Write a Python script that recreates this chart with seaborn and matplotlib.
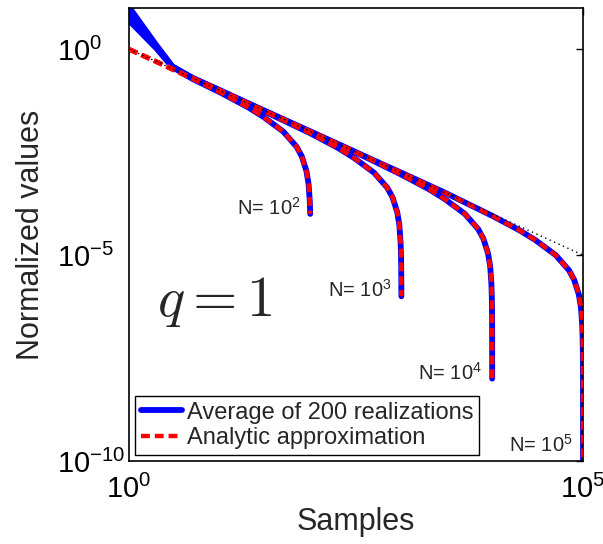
import matplotlib
matplotlib.use('Agg')
import pandas as pd
import seaborn as sns
import matplotlib.pyplot as plt
from matplotlib.ticker import NullLocator

# values
sizes = [1e2, 1e3, 1e4, 1e5]
size_labels = ['N= $10^2$', 'N= $10^3$', 'N= $10^4$', 'N= $10^5$']

n_1e2 = [1, 2, 3, 5, 10, 20, 30, 50, 70, 80, 90, 95, 98, 99]
approx_1e2 = [0.99, 0.49, 0.32, 0.19, 0.09, 0.04, 0.023, 0.01, 0.0043, 0.0025, 0.0011, 5.3e-4, 2.0e-4, 1.0e-4]

n_1e3 = [1, 2, 3, 5, 10, 30, 100, 200, 300, 500, 700, 800, 900, 950, 980, 990, 995, 998, 999]
approx_1e3 = [1.0, 0.5, 0.33, 0.2, 0.1, 0.032, 0.009, 0.004, 0.0023, 0.001, 4.3e-4, 2.5e-4,
              1.1e-4, 5.3e-5, 2.0e-5, 1.0e-5, 5.0e-6, 2.0e-6, 1.0e-6]

n_1e4 = [1, 2, 3, 5, 10, 30, 100, 300, 1000, 2000, 3000, 5000, 7000, 8000, 9000, 9500,
         9800, 9900, 9950, 9980, 9990, 9999]
approx_1e4 = [1.0, 0.5, 0.33, 0.2, 0.1, 0.033, 0.0099, 0.0033, 9.0e-4, 4.0e-4, 2.3e-4, 1.0e-4,
              4.3e-5, 2.5e-5, 1.1e-5, 5.3e-6, 2.0e-6, 1.0e-6, 5.0e-7, 2.0e-7, 1.0e-7, 1.0e-8]

n_1e5 = [1, 2, 3, 5, 10, 30, 100, 300, 1000, 3000, 10000, 20000, 30000, 50000, 70000, 80000,
         90000, 95000, 98000, 99000, 99500, 99800, 99900, 99990, 99999]
approx_1e5 = [1.0, 0.5, 0.33, 0.2, 0.1, 0.033, 0.01, 0.0033, 0.001, 3.3e-4, 9.0e-5, 4.0e-5,
              2.3e-5, 1.0e-5, 4.3e-6, 2.5e-6, 1.1e-6, 5.3e-7, 2.0e-7, 1.0e-7, 5.0e-8, 2.0e-8,
              1.0e-8, 1.0e-9, 1.0e-10]

# the simulated averages sit higher over the first few samples
blue_start = [[5.0, 1.05, 0.37], [6.5, 1.12, 0.37], [8.0, 1.18, 0.38], [10.5, 1.25, 0.38]]

# dotted power-law guide
guide_n = [1, 1e5]
guide_y = [1.0, 1e-5]

all_n = [n_1e2, n_1e3, n_1e4, n_1e5]
all_approx = [approx_1e2, approx_1e3, approx_1e4, approx_1e5]

sns.set_theme(style='white')
plt.rcParams['font.family'] = ['Liberation Sans', 'DejaVu Sans']
plt.rcParams['mathtext.fontset'] = 'custom'
plt.rcParams['mathtext.rm'] = 'Liberation Sans'
plt.rcParams['mathtext.it'] = 'Liberation Sans:italic'
plt.rcParams['mathtext.bf'] = 'Liberation Sans:bold'

fig = plt.figure(figsize=(6.03, 5.44), dpi=100)
ax = fig.add_axes([129 / 603, 1 - 461 / 544, 454 / 603, 453 / 544])
ax.set(xscale='log', yscale='log')

for i, (n, y) in enumerate(zip(all_n, all_approx)):
    df = pd.DataFrame({'Samples': n, 'value': blue_start[i] + y[3:]})
    sns.lineplot(data=df, x='Samples', y='value', ax=ax, estimator=None, color='#0000ff',
                 linewidth=4.2, label='Average of 200 realizations' if i == 0 else None,
                 legend=False, zorder=2)
for i, (n, y) in enumerate(zip(all_n, all_approx)):
    df = pd.DataFrame({'Samples': n, 'value': y})
    sns.lineplot(data=df, x='Samples', y='value', ax=ax, estimator=None, color='#ff0000',
                 linewidth=3.2, linestyle=(0, (2.0, 1.1)),
                 label='Analytic approximation' if i == 0 else None, legend=False, zorder=3)

sns.lineplot(x=guide_n, y=guide_y, ax=ax, color='black', linewidth=1.0,
             linestyle=(0, (1, 2.5)), legend=False, zorder=4)

ax.set_xlim(1, 1e5)
ax.set_ylim(1e-10, 10)
ax.set_xticks([1, 1e5])
ax.set_yticks([1e-10, 1e-5, 1])
ax.xaxis.set_minor_locator(NullLocator())
ax.yaxis.set_minor_locator(NullLocator())
ax.tick_params(axis='both', direction='in', length=5, width=1, labelsize=21,
               top=True, right=True, color='black', labelcolor='black')
ax.tick_params(axis='x', pad=10)
ax.tick_params(axis='y', pad=52)
for t in ax.yaxis.get_major_ticks():
    t.label1.set_horizontalalignment('left')

for s in ax.spines.values():
    s.set_color('black')
    s.set_linewidth(1.2)

ax.set_xlabel('Samples', fontsize=22, labelpad=2)
ax.set_ylabel('Normalized values', fontsize=22, labelpad=8)

# curve labels next to the end of each curve
for i, (n, y) in enumerate(zip(all_n, all_approx)):
    yend = max(y[-1], 1e-10)
    dy = 9 if y[-1] <= 1e-10 else -1
    ax.annotate(size_labels[i], xy=(sizes[i], yend), xytext=(-10, dy),
                textcoords='offset pixels', ha='right', va='baseline', fontsize=14.5)

ax.text(0.062, 0.32, '$q=1$', transform=ax.transAxes, fontsize=41,
        math_fontfamily='cm', ha='left', va='baseline')

leg = ax.legend(loc='lower left', fontsize=17, frameon=True, fancybox=False,
                edgecolor='black', framealpha=1, handlelength=1.75, handletextpad=0.2,
                labelspacing=0.15, borderpad=0.25, borderaxespad=0.25)
leg.get_frame().set_linewidth(1.0)

plt.savefig('out.png', dpi=100)
